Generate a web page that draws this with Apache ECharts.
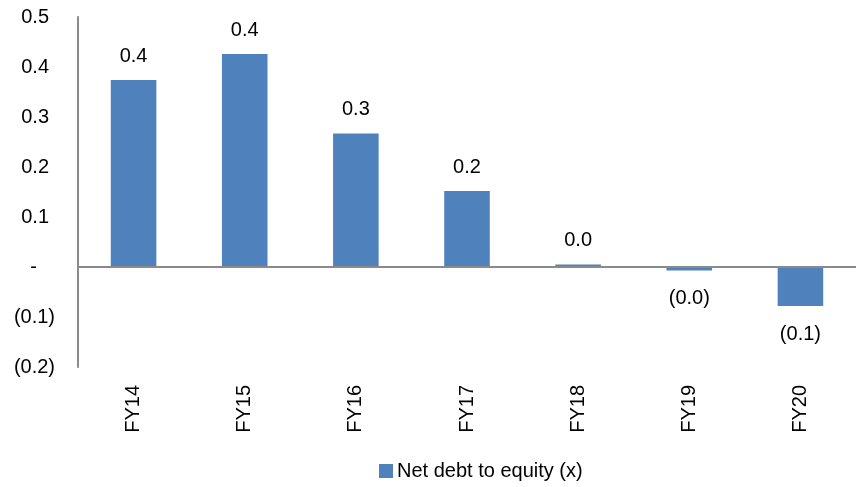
<!DOCTYPE html>
<html>
<head>
<meta charset="utf-8">
<script src="https://cdn.jsdelivr.net/npm/echarts@6/dist/echarts.min.js"></script>
<style>html,body{margin:0;padding:0;background:#fff}#c{width:856px;height:487px}</style>
</head>
<body>
<div id="c"></div>
<script>
const categories = ['FY14','FY15','FY16','FY17','FY18','FY19','FY20'];
const netDebtToEquity = [0.374, 0.426, 0.267, 0.152, 0.005, -0.007, -0.078];
const seriesName = 'Net debt to equity (x)';

const FONT = 'Liberation Sans, Arial, sans-serif';
const fmtVal = v => v < 0 ? '(' + Math.abs(v).toFixed(1) + ')' : v.toFixed(1);

const chart = echarts.init(document.getElementById('c'));
chart.setOption({
  animation: false,
  textStyle: { fontFamily: FONT },
  grid: { left: 78, top: 17, width: 785, bottom: 120, containLabel: false },
  legend: {
    data: [seriesName], left: 379, top: 461, padding: 0,
    itemWidth: 14, itemHeight: 14, itemGap: 4,
    textStyle: { fontSize: 20, color: '#000', fontFamily: FONT, padding: [0,0,0,-1] },
    icon: 'rect'
  },
  xAxis: {
    type: 'category', data: categories,
    axisLine: { show: false }, axisTick: { show: false },
    axisLabel: { rotate: 90, margin: 18, fontSize: 20, color: '#000', fontFamily: FONT }
  },
  yAxis: {
    type: 'value', min: -0.2, max: 0.5, interval: 0.1,
    splitLine: { show: false },
    axisLine: { show: true, lineStyle: { color: '#8a8a8a', width: 2 } },
    axisTick: { show: false },
    axisLabel: {
      margin: 23, fontSize: 20, color: '#000', fontFamily: FONT,
      formatter: v => {
        const r = Math.round(v * 10) / 10;
        if (r === 0) return '{d|-}';
        if (r < 0) return '{n|(' + Math.abs(r).toFixed(1) + ')}';
        return '{p|' + r.toFixed(1) + '}';
      },
      rich: {
        p: { fontSize: 20, fontFamily: FONT, color: '#000', padding: [0, 6, 0, 0] },
        n: { fontSize: 20, fontFamily: FONT, color: '#000' },
        d: { fontSize: 20, fontFamily: FONT, color: '#000', padding: [0, 18, 0, 0] }
      }
    }
  },
  series: [{
    name: seriesName, type: 'bar', barWidth: '41%',
    itemStyle: { color: '#4F81BD' },
    data: netDebtToEquity.map(v => ({
      value: v,
      label: { position: v < 0 ? 'bottom' : 'top', distance: v < 0 ? 18 : 14 }
    })),
    label: {
      show: true, fontSize: 20, color: '#000', fontFamily: FONT,
      formatter: p => fmtVal(p.value)
    },
    markLine: {
      silent: true, symbol: 'none', label: { show: false },
      lineStyle: { color: '#8a8a8a', width: 2, type: 'solid' },
      data: [{ yAxis: 0 }]
    }
  }]
});
</script>
</body>
</html>
